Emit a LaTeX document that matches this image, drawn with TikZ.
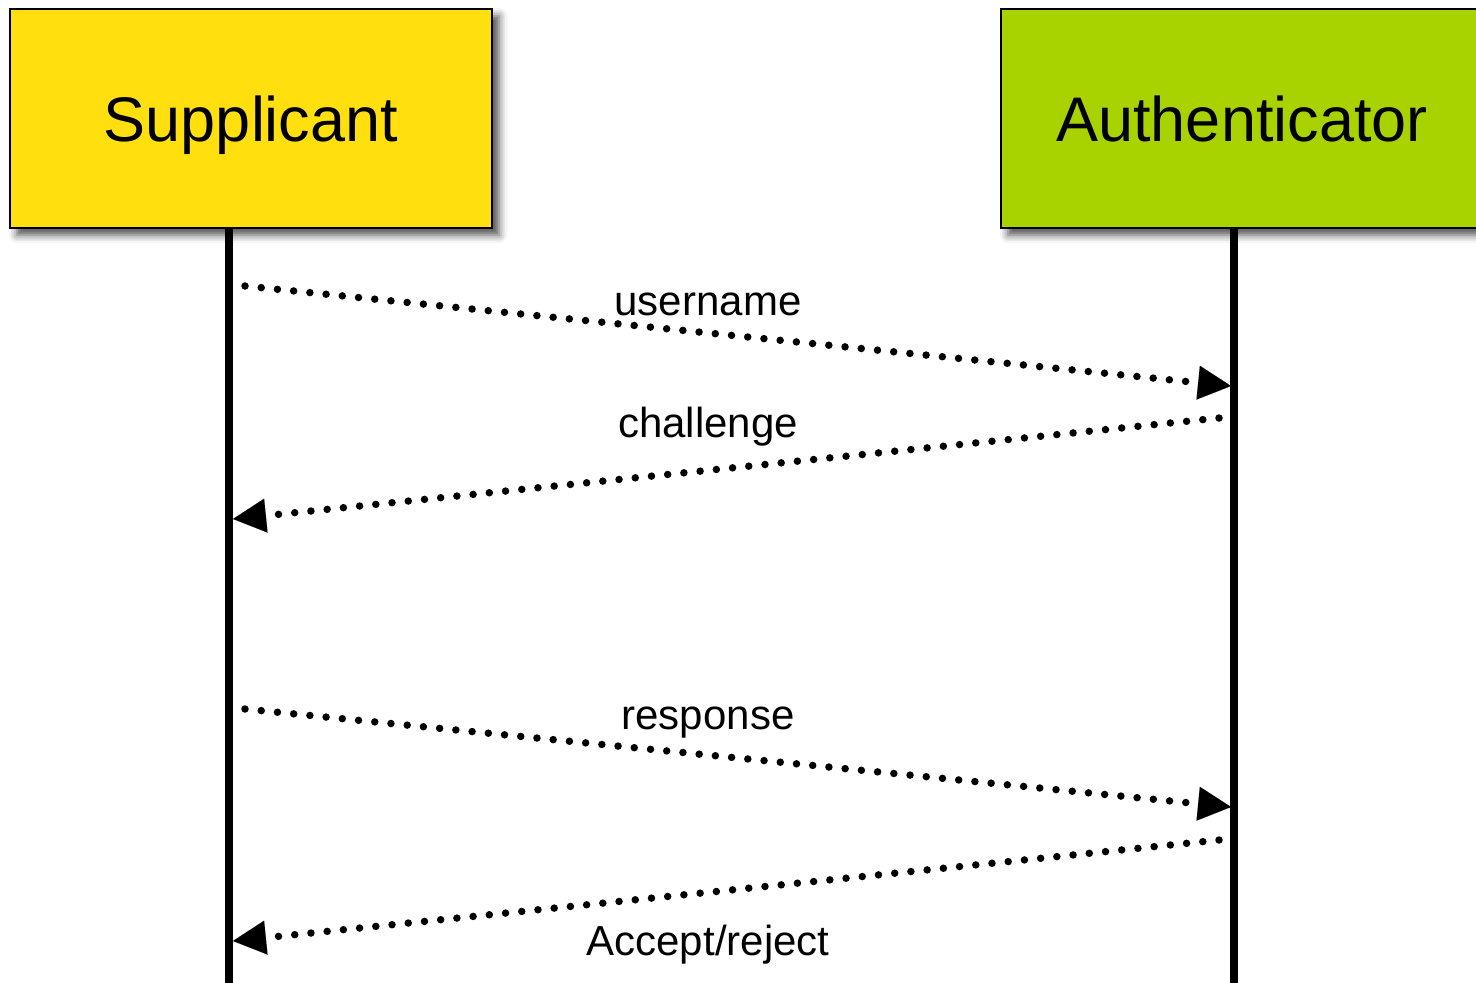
\documentclass[tikz,border=0pt]{standalone}
\usepackage{fontspec}
\setmainfont{Liberation Sans}
\usetikzlibrary{arrows.meta,shadows.blur}

\definecolor{suppyellow}{HTML}{FFE00E}
\definecolor{authgreen}{HTML}{A9D300}

\tikzset{
  actor/.style={draw=black, line width=1.5pt, minimum width=482pt, minimum height=219pt,
    inner sep=0pt, text height=45pt, text depth=0pt,
    font=\fontsize{63}{70}\selectfont,
    blur shadow={shadow xshift=7pt, shadow yshift=-7pt, shadow blur radius=8pt, shadow opacity=70}},
  lifeline/.style={line width=7.5pt},
  msg/.style={line width=7.5pt, line cap=round, dash pattern=on 0pt off 16.3pt,
    -{Triangle[length=33pt, width=34pt, line width=0.01pt]}},
  msglabel/.style={anchor=base, inner sep=0pt, font=\fontsize{42}{48}\selectfont}
}

\begin{document}
\begin{tikzpicture}[x=1pt, y=-1pt]
  \useasboundingbox (0,0) rectangle (1476,983);

  % participants and their lifelines
  \coordinate (supTop) at (229,226);
  \coordinate (supEnd) at (229,990);
  \coordinate (autTop) at (1234,226);
  \coordinate (autEnd) at (1234,990);

  \draw[lifeline] (supTop) -- (supEnd);
  \draw[lifeline] (autTop) -- (autEnd);

  \node[actor, fill=suppyellow] (sup) at (251,118.5) {Supplicant};
  \node[actor, fill=authgreen]  (aut) at (1242,118.5) {Authenticator};

  % message end points on the lifelines
  \coordinate (m1s) at (245,286);  \coordinate (m1e) at (1231,386);
  \coordinate (m2s) at (1219,418); \coordinate (m2e) at (233,519);
  \coordinate (m3s) at (245,709);  \coordinate (m3e) at (1231,807);
  \coordinate (m4s) at (1219,840); \coordinate (m4e) at (233,941);

  \draw[msg] (m1s) -- (m1e);
  \draw[msg] (m2s) -- (m2e);
  \draw[msg] (m3s) -- (m3e);
  \draw[msg] (m4s) -- (m4e);

  \node[msglabel] (l1) at (708,315) {username};
  \node[msglabel] (l2) at (708,437) {challenge};
  \node[msglabel] (l3) at (708,729) {response};
  \node[msglabel] (l4) at (708,955) {Accept/reject};
\end{tikzpicture}
\end{document}
